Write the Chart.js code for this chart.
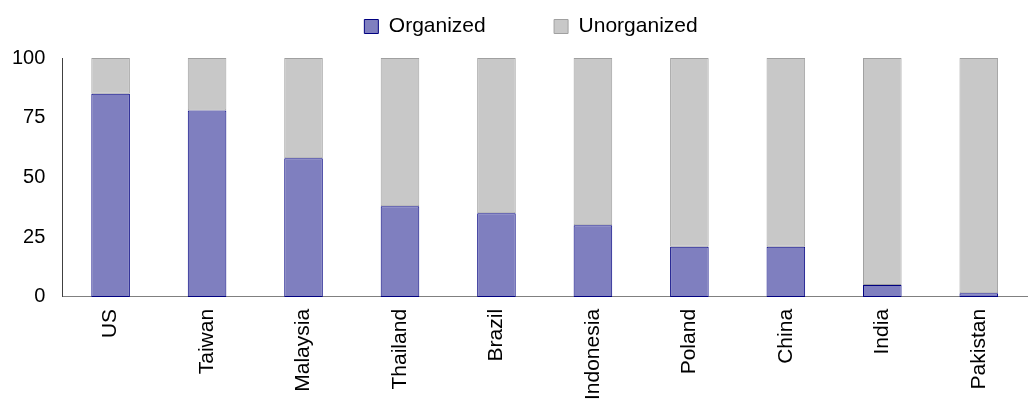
<!DOCTYPE html>
<html>
<head>
<meta charset="utf-8">
<script src="https://cdn.jsdelivr.net/npm/chart.js@4/dist/chart.umd.min.js"></script>
<style>
  html, body { margin: 0; padding: 0; background: #ffffff; overflow: hidden; }
  #wrap { position: relative; width: 1031px; height: 412px; }
</style>
</head>
<body>
<div id="wrap"><canvas id="chart"></canvas></div>
<script>
// Share of retail that is organized vs unorganized, by country (%)
const countries = ['US', 'Taiwan', 'Malaysia', 'Thailand', 'Brazil', 'Indonesia', 'Poland', 'China', 'India', 'Pakistan'];
const organized = [85, 78, 58, 38, 35, 30, 21, 21, 5, 1.5];
const unorganized = [15, 22, 42, 62, 65, 70, 79, 79, 95, 98.5];
const yTicks = [0, 25, 50, 75, 100];

const FONT = 'Liberation Sans, Arial, sans-serif';

// Extra room below the legend, and a small horizontal nudge of the legend row
const legendTweaks = {
  id: 'legendTweaks',
  beforeLayout(chart) {
    const lg = chart.legend;
    if (lg && !lg._gapWrapped) {
      const fit = lg.fit;
      lg.fit = function () { fit.call(this); this.height += 11; };
      lg._gapWrapped = true;
    }
  },
  afterLayout(chart) {
    const lg = chart.legend;
    if (lg) { lg.left += 20; lg.right += 20; }
  }
};

new Chart(document.getElementById('chart'), {
  type: 'bar',
  data: {
    labels: countries,
    datasets: [
      {
        label: 'Organized',
        data: organized,
        backgroundColor: '#7f7fbf',
        borderColor: '#000080',
        borderWidth: 1,
        borderSkipped: false,
        barPercentage: 0.4,
        categoryPercentage: 1.0
      },
      {
        label: 'Unorganized',
        data: unorganized,
        backgroundColor: '#c8c8c8',
        borderColor: '#a0a0a0',
        borderWidth: 1,
        borderSkipped: false,
        barPercentage: 0.4,
        categoryPercentage: 1.0
      }
    ]
  },
  options: {
    responsive: true,
    maintainAspectRatio: false,
    animation: false,
    layout: { padding: { top: 6, right: 4, left: -5, bottom: 0 } },
    plugins: {
      tooltip: { enabled: false },
      legend: {
        position: 'top',
        labels: {
          font: { family: FONT, size: 21 },
          color: '#000000',
          boxWidth: 14,
          boxHeight: 14,
          padding: 10,
          generateLabels(chart) {
            return chart.data.datasets.map((ds, i) => ({
              text: i === 0 ? ds.label + '          ' : ds.label,
              fillStyle: ds.backgroundColor,
              strokeStyle: ds.borderColor,
              lineWidth: 1,
              hidden: false,
              datasetIndex: i
            }));
          }
        }
      }
    },
    scales: {
      x: {
        stacked: true,
        grid: { display: false, drawTicks: false },
        border: { display: true, color: '#808080', width: 1 },
        ticks: {
          font: { family: FONT, size: 21 },
          color: '#000000',
          minRotation: 90,
          maxRotation: 90,
          padding: 12,
          autoSkip: false
        }
      },
      y: {
        stacked: true,
        min: 0,
        max: 100,
        afterBuildTicks(scale) { scale.ticks = yTicks.map(v => ({ value: v })); },
        grid: { display: false, drawTicks: false },
        border: { display: true, color: '#404040', width: 1 },
        ticks: {
          font: { family: FONT, size: 20 },
          color: '#000000',
          padding: 17
        }
      }
    }
  },
  plugins: [legendTweaks]
});
</script>
</body>
</html>
